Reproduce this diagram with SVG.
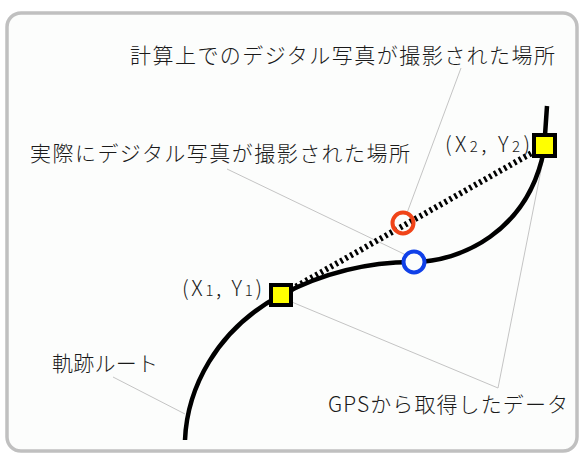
<svg xmlns="http://www.w3.org/2000/svg" width="583" height="455" viewBox="0 0 583 455">
<style>
.lbl{font-family:"Noto Sans CJK JP","Noto Sans",sans-serif;font-size:21px;font-weight:300;fill:#1a1a1a}
.coord{font-family:"Noto Sans CJK JP","Noto Sans",sans-serif;font-size:21px;font-weight:300;fill:#1a1a1a}
.sub{font-size:15px}
.lead{stroke:#c4c4c4;stroke-width:1;fill:none}
.track{stroke:#000;stroke-width:4.5;fill:none;stroke-linecap:butt}
.gps{fill:#ffff00;stroke:#000;stroke-width:4}
</style>
<rect x="0" y="0" width="583" height="455" fill="#ffffff"/>
<rect id="frame" x="7" y="13" width="570" height="438" rx="14" ry="14" fill="#fcfdfc" stroke="#c0c0c0" stroke-width="3.5"/>
<g id="connectors">
  <line class="lead" x1="461" y1="68" x2="407" y2="213"/>
  <line class="lead" x1="227" y1="169" x2="404" y2="254"/>
  <line class="lead" x1="113" y1="377" x2="185" y2="414"/>
  <polyline class="lead" points="287,300 498,388 545,150"/>
  <line id="calc-line" x1="281" y1="295" x2="544" y2="146" stroke="#000" stroke-width="6" stroke-dasharray="2.5 3.2"/>
</g>
<g id="track">
  <path class="track" d="M185,440 C187,390 215,330 281,295 C325,272 370,262 413,262 C460,262 528,232 544,150 L547,106"/>
  <text class="lbl" x="52" y="371" textLength="106" lengthAdjust="spacing">軌跡ルート</text>
</g>
<g id="p1">
  <rect class="gps" x="271" y="285" width="20" height="20"/>
  <text class="coord" x="182" y="296" textLength="80" lengthAdjust="spacing">(X<tspan class="sub">1</tspan>, Y<tspan class="sub">1</tspan>)</text>
</g>
<g id="p2">
  <rect class="gps" x="534" y="135" width="21" height="21"/>
  <text class="coord" x="445" y="152" textLength="85" lengthAdjust="spacing">(X<tspan class="sub">2</tspan>, Y<tspan class="sub">2</tspan>)</text>
</g>
<g id="calc-point">
  <circle cx="403" cy="223" r="10.5" fill="none" stroke="#f04418" stroke-width="4"/>
  <text class="lbl" x="130" y="63" textLength="425" lengthAdjust="spacing">計算上でのデジタル写真が撮影された場所</text>
</g>
<g id="actual-point">
  <circle cx="414" cy="262" r="10.5" fill="#fcfdfc" stroke="#1040e8" stroke-width="4"/>
  <text class="lbl" x="30" y="161" textLength="380" lengthAdjust="spacing">実際にデジタル写真が撮影された場所</text>
</g>
<g id="gps-label">
  <text class="lbl" x="328" y="412" textLength="240" lengthAdjust="spacing">GPSから取得したデータ</text>
</g>
</svg>
